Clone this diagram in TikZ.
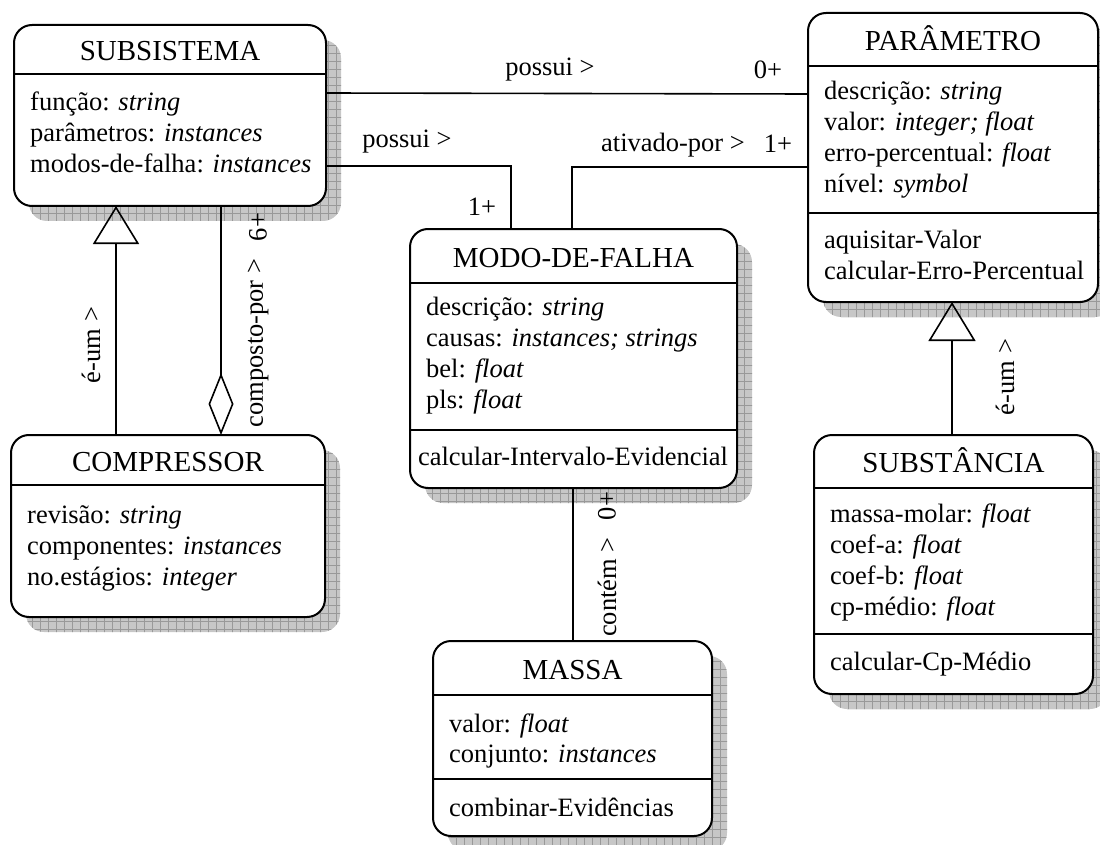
\documentclass[tikz,border=0pt]{standalone}
\usepackage{fontspec}
\setmainfont{Liberation Serif}
\usetikzlibrary{arrows.meta,patterns.meta,backgrounds}
\begin{document}
\begin{tikzpicture}[x=1pt,y=-1pt,
  font=\fontsize{26.5}{31}\selectfont,
  classbox/.style={draw, line width=2pt, rounded corners=18pt, fill=white,
    inner sep=0pt, outer sep=0pt, anchor=north west},
  sepline/.style={line width=2pt},
  conn/.style={line width=1.6pt},
  shadowbox/.style={rounded corners=18pt, fill=black!22,
    postaction={pattern={Lines[distance=8pt,angle=0,line width=0.8pt]}, pattern color=black!40},
    postaction={pattern={Lines[distance=8pt,angle=90,line width=0.8pt]}, pattern color=black!40}},
  txt/.style={inner sep=0pt, anchor=base west},
  ttl/.style={inner sep=0pt, anchor=base, font=\fontsize{29}{31}\selectfont},
  optxt/.style={inner sep=0pt, anchor=base},
  lbl/.style={inner sep=1pt},
]
\useasboundingbox (0,0) rectangle (1100,845);

% ---------- class boxes ----------
\node[classbox, minimum width=312pt, minimum height=181pt] (sub)   at (14,25)  {};
\node[classbox, minimum width=290pt, minimum height=289pt] (par)   at (808,13) {};
\node[classbox, minimum width=327pt, minimum height=259pt] (modo)  at (410,229) {};
\node[classbox, minimum width=314pt, minimum height=182pt] (comp)  at (11,435) {};
\node[classbox, minimum width=279pt, minimum height=195pt] (massa) at (433,641) {};
\node[classbox, minimum width=279pt, minimum height=259pt] (subst) at (814,435) {};

\begin{scope}[on background layer]
  \foreach \n in {sub,par,modo,comp,massa,subst}
    \fill[shadowbox] ([shift={(15,15)}]\n.north west) rectangle ([shift={(15,15)}]\n.south east);
\end{scope}

% ---------- compartment lines ----------
\draw[sepline] (sub.west |- 0,74) -- (sub.east |- 0,74);
\draw[sepline] (par.west |- 0,66) -- (par.east |- 0,66);
\draw[sepline] (par.west |- 0,213) -- (par.east |- 0,213);
\draw[sepline] (modo.west |- 0,283) -- (modo.east |- 0,283);
\draw[sepline] (modo.west |- 0,430) -- (modo.east |- 0,430);
\draw[sepline] (comp.west |- 0,485) -- (comp.east |- 0,485);
\draw[sepline] (massa.west |- 0,695) -- (massa.east |- 0,695);
\draw[sepline] (massa.west |- 0,779) -- (massa.east |- 0,779);
\draw[sepline] (subst.west |- 0,488) -- (subst.east |- 0,488);
\draw[sepline] (subst.west |- 0,634) -- (subst.east |- 0,634);

% ---------- SUBSISTEMA ----------
\node[ttl] (sub-t) at (170,61) {SUBSISTEMA};
\node[txt] (sub-a1) at (30,111) {função: \textit{string}};
\node[txt] (sub-a2) at (30,142) {parâmetros: \textit{instances}};
\node[txt] (sub-a3) at (30,173) {modos-de-falha: \textit{instances}};

% ---------- PARÂMETRO ----------
\node[ttl] (par-t) at (953,51) {PARÂMETRO};
\node[txt] (par-a1) at (824,100) {descrição: \textit{string}};
\node[txt] (par-a2) at (824,131) {valor: \textit{integer; float}};
\node[txt] (par-a3) at (824,162) {erro-percentual: \textit{float}};
\node[txt] (par-a4) at (824,193) {nível: \textit{symbol}};
\node[txt] (par-o1) at (824,248) {aquisitar-Valor};
\node[txt] (par-o2) at (824,279) {calcular-Erro-Percentual};

% ---------- MODO-DE-FALHA ----------
\node[ttl] (modo-t) at (573.5,267) {MODO-DE-FALHA};
\node[txt] (modo-a1) at (426,315) {descrição: \textit{string}};
\node[txt] (modo-a2) at (426,346) {causas: \textit{instances; strings}};
\node[txt] (modo-a3) at (426,377) {bel: \textit{float}};
\node[txt] (modo-a4) at (426,408) {pls: \textit{float}};
\node[optxt] (modo-o1) at (573,465) {calcular-Intervalo-Evidencial};

% ---------- COMPRESSOR ----------
\node[ttl] (comp-t) at (168,471) {COMPRESSOR};
\node[txt] (comp-a1) at (27,523) {revisão: \textit{string}};
\node[txt] (comp-a2) at (27,554) {componentes: \textit{instances}};
\node[txt] (comp-a3) at (27,585) {no.estágios: \textit{integer}};

% ---------- MASSA ----------
\node[ttl] (massa-t) at (572.5,679) {MASSA};
\node[txt] (massa-a1) at (449,732) {valor: \textit{float}};
\node[txt] (massa-a2) at (449,762) {conjunto: \textit{instances}};
\node[txt] (massa-o1) at (449,816) {combinar-Evidências};

% ---------- SUBSTÂNCIA ----------
\node[ttl] (subst-t) at (953.5,472) {SUBSTÂNCIA};
\node[txt] (subst-a1) at (830,522) {massa-molar: \textit{float}};
\node[txt] (subst-a2) at (830,553) {coef-a: \textit{float}};
\node[txt] (subst-a3) at (830,584) {coef-b: \textit{float}};
\node[txt] (subst-a4) at (830,615) {cp-médio: \textit{float}};
\node[txt] (subst-o1) at (830,670) {calcular-Cp-Médio};

% ---------- connectors ----------
\draw[conn] (sub.east |- 0,93) -- (par.west |- 0,94);
\draw[conn] (sub.east |- 0,166) -| (modo.north -| 511,0);
\draw[conn] (modo.north -| 572,0) |- (par.west |- 0,167);
\draw[conn] (modo.south -| 573,0) -- (massa.north -| 573,0);
\draw[conn, -{Triangle[open,length=38pt,width=46pt]}] (comp.north -| 116,0) -- (sub.south -| 116,0);
\draw[conn, -{Diamond[open,length=62pt,width=25pt]}] (sub.south -| 221,0) -- (comp.north -| 221,0);
\draw[conn, -{Triangle[open,length=39pt,width=47pt]}] (subst.north -| 952,0) -- (par.south -| 952,0);

% ---------- labels ----------
\node[lbl] (l1) at (550,70) {possui >};
\node[lbl] (c1) at (768,70) {0+};
\node[lbl] (l2) at (407,142) {possui >};
\node[lbl] (c2) at (482,207) {1+};
\node[lbl] (l3) at (673,145) {ativado-por >};
\node[lbl] (c3) at (778,144) {1+};
\node[lbl, rotate=90] (l4) at (91,345) {é-um >};
\node[lbl, rotate=90] (l5) at (258,343) {composto-por >};
\node[lbl, rotate=90] (c5) at (258,227) {6+};
\node[lbl, rotate=90] (l6) at (607,587) {contém >};
\node[lbl, rotate=90] (c6) at (607,506) {0+};
\node[lbl, rotate=90] (l7) at (1005,377) {é-um >};
\end{tikzpicture}
\end{document}
